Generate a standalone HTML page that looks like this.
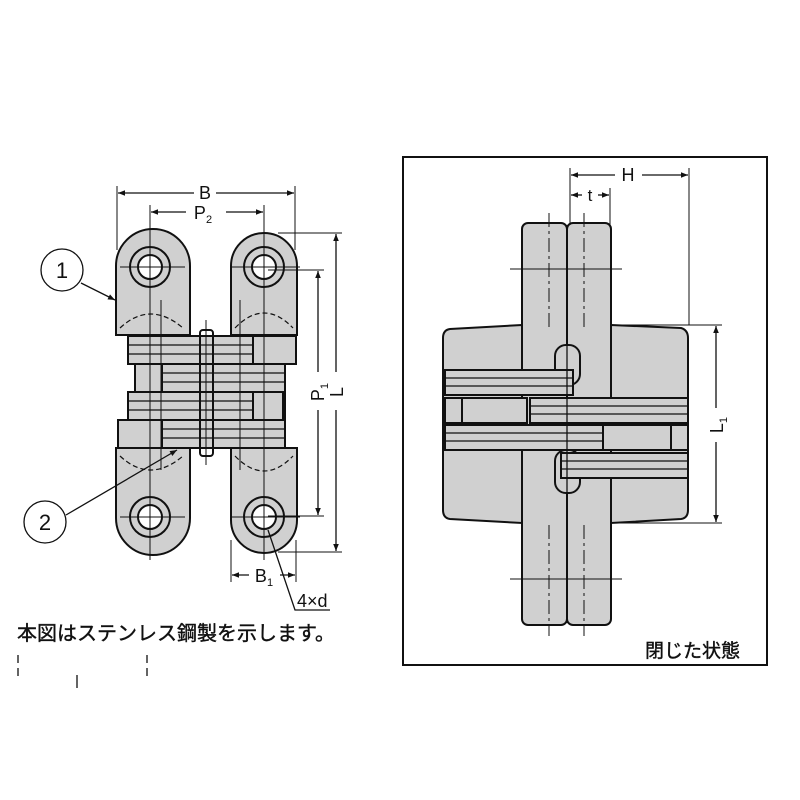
<!DOCTYPE html>
<html><head><meta charset="utf-8"><style>
html,body{margin:0;padding:0;background:#fff;}
svg{display:block;}
text{font-family:"Liberation Sans","Noto Sans CJK JP",sans-serif;fill:#111;}
</style></head><body>
<svg width="800" height="800" viewBox="0 0 800 800" xmlns="http://www.w3.org/2000/svg">
<defs>
<marker id="a" viewBox="0 0 10 10" refX="10" refY="5" markerWidth="9" markerHeight="7" orient="auto-start-reverse" markerUnits="userSpaceOnUse"><path d="M0,1 L10,5 L0,9 z" fill="#111"/></marker>
</defs>
<g stroke="#111" fill="#d0d0d0" stroke-width="2">
<path d="M116,335 V266 A37,37 0 0 1 190,266 V335 Z"/>
<path d="M231,335 V266 A33,33 0 0 1 297,266 V335 Z"/>
<path d="M116,448 V518 A37,37 0 0 0 190,518 V448 Z"/>
<path d="M231,448 V520 A33,33 0 0 0 297,520 V448 Z"/>
<rect x="128" y="336" width="168" height="28"/>
<rect x="135" y="364" width="150" height="28"/>
<rect x="128" y="392" width="157" height="28"/>
<rect x="118" y="420" width="167" height="28"/>
<rect x="253" y="336" width="43" height="28"/>
<rect x="135" y="364" width="27" height="28"/>
<rect x="253" y="392" width="30" height="28"/>
<rect x="118" y="420" width="44" height="28"/>
<rect x="200" y="330" width="13" height="126" rx="3" fill="none"/>
</g>
<g stroke="#111" stroke-width="1.2" fill="none">
<path d="M128,345 H253 M128,354 H253 M162,373 H285 M162,382 H285 M128,401 H253 M128,410 H253 M162,429 H285 M162,438 H285"/>
<path d="M120,328 Q150,300 183,328" stroke-dasharray="5,3"/>
<path d="M235,328 Q264,298 293,328" stroke-dasharray="5,3"/>
<path d="M120,456 Q150,484 183,456" stroke-dasharray="5,3"/>
<path d="M235,456 Q264,486 293,456" stroke-dasharray="5,3"/>
</g>
<g stroke="#111" stroke-width="2">
<circle cx="150" cy="267" r="20" fill="#d0d0d0"/><circle cx="150" cy="267" r="12" fill="#fff"/>
<circle cx="264" cy="267" r="20" fill="#d0d0d0"/><circle cx="264" cy="267" r="12" fill="#fff"/>
<circle cx="150" cy="517" r="20" fill="#d0d0d0"/><circle cx="150" cy="517" r="12" fill="#fff"/>
<circle cx="264" cy="517" r="20" fill="#d0d0d0"/><circle cx="264" cy="517" r="12" fill="#fff"/>
</g>
<g stroke="#111" stroke-width="1" fill="none">
<path d="M150,205 V560 M264,205 V560 M120,267 H185 M230,267 H300 M120,517 H185 M230,517 H300 M161,300 V470 M240,300 V470 M206,320 V465"/>
<path d="M117,186 V250 M295,186 V250 M264,206 V240 M278,233 H342 M268,270 H324 M268,516 H324 M278,552 H342 M231,540 V582 M296,540 V582"/>
</g>
<g stroke="#111" stroke-width="1.3" fill="none">
<path d="M118,193 H194 M216,193 H294" marker-start="url(#a)" marker-end="url(#a)"/>
<path d="M151,212 H186 M226,212 H263" marker-start="url(#a)" marker-end="url(#a)"/>
<path d="M336,234 V372 M336,410 V551" marker-start="url(#a)" marker-end="url(#a)"/>
<path d="M318,271 V372 M318,410 V515" marker-start="url(#a)" marker-end="url(#a)"/>
<path d="M232,575 H249 M280,575 H295" marker-start="url(#a)" marker-end="url(#a)"/>
<path d="M268,530 L295,610 H330"/>
<path d="M81,283 L115,300" marker-end="url(#a)"/>
<path d="M66,515 L177,450" marker-end="url(#a)"/>
<circle cx="62" cy="270" r="21"/>
<circle cx="45" cy="522" r="21"/>
</g>
<text x="205" y="199" font-size="18" text-anchor="middle">B</text>
<text x="203" y="219" font-size="18" text-anchor="middle">P<tspan font-size="11" dy="4">2</tspan></text>
<g transform="translate(324,392) rotate(-90)"><text x="0" y="0" font-size="18" text-anchor="middle">P<tspan font-size="11" dy="4">1</tspan></text></g>
<g transform="translate(343,392) rotate(-90)"><text x="0" y="0" font-size="18" text-anchor="middle">L</text></g>
<text x="264" y="582" font-size="18" text-anchor="middle">B<tspan font-size="11" dy="4">1</tspan></text>
<text x="297" y="607" font-size="18">4×d</text>
<text x="62" y="278" font-size="22" text-anchor="middle">1</text>
<text x="45" y="530" font-size="22" text-anchor="middle">2</text>
<text x="17" y="640" font-size="20" stroke="#111" stroke-width="0.4">本図はステンレス鋼製を示します。</text>
<g stroke="#111" stroke-width="1.3">
<path d="M18,655 V681" stroke-dasharray="8,5"/>
<path d="M147,655 V681" stroke-dasharray="8,5"/>
<path d="M77,675 V688"/>
</g>

<rect x="403" y="157" width="364" height="508" fill="none" stroke="#111" stroke-width="2"/>
<g stroke="#111" stroke-width="2" fill="#d0d0d0">
<path d="M522,325 L450,329 Q443,330 443,338 V510 Q443,518 450,519 L522,523 Z"/>
<path d="M611,325 L681,328 Q688,330 688,338 V510 Q688,518 681,519 L611,523 Z"/>
<rect x="522" y="223" width="45" height="402" rx="6"/>
<rect x="567" y="223" width="44" height="402" rx="6"/>
<rect x="555" y="345" width="25" height="40" rx="11"/>
<rect x="555" y="450" width="25" height="43" rx="11"/>
<rect x="445" y="370" width="128" height="25"/>
<rect x="530" y="398" width="158" height="25"/>
<rect x="445" y="425" width="158" height="25"/>
<rect x="561" y="453" width="127" height="25"/>
<rect x="445" y="398" width="17" height="25"/>
<rect x="462" y="398" width="65" height="25"/>
<rect x="603" y="425" width="68" height="25"/>
<rect x="671" y="425" width="17" height="25"/>
</g>
<g stroke="#111" stroke-width="1.3" fill="none">
<path d="M445,378 H573 M445,386 H573 M530,406 H688 M530,414 H688 M445,433 H603 M445,441 H603 M561,461 H688 M561,469 H688"/>
<path d="M567,225 V623"/>
<path d="M522,340 V370 M611,340 V370 M522,478 V510 M611,478 V510" stroke-width="1"/>
</g>
<g stroke="#111" stroke-width="1" fill="none">
<path d="M510,269 H622 M510,579 H622"/>
<path d="M549,213 V330 M584,213 V330 M549,525 V636 M584,525 V636" stroke-dasharray="14,4,3,4"/>
<path d="M570,168 V225 M689,168 V325 M610,188 V225 M612,325 H722 M612,523 H722"/>
</g>
<g stroke="#111" stroke-width="1.3" fill="none">
<path d="M571,175 H615 M642,175 H688" marker-start="url(#a)" marker-end="url(#a)"/>
<path d="M582,195 L571,195" marker-end="url(#a)"/>
<path d="M598,195 L609,195" marker-end="url(#a)"/>
<path d="M716,326 V408 M716,442 V522" marker-start="url(#a)" marker-end="url(#a)"/>
</g>
<text x="628" y="181" font-size="18" text-anchor="middle">H</text>
<text x="590" y="201" font-size="17" text-anchor="middle">t</text>
<g transform="translate(723,425) rotate(-90)"><text x="0" y="0" font-size="18" text-anchor="middle">L<tspan font-size="11" dy="4">1</tspan></text></g>
<text x="645" y="657" font-size="19" stroke="#111" stroke-width="0.4">閉じた状態</text>
</svg>
</body></html>
